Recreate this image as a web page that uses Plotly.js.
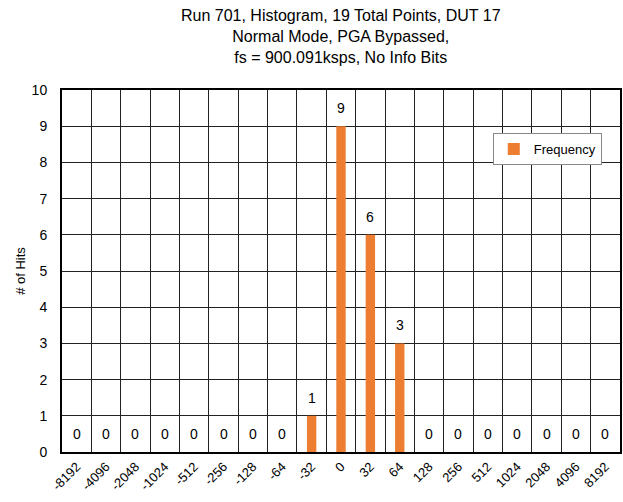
<!DOCTYPE html>
<html>
<head>
<meta charset="utf-8">
<script src="https://cdn.plot.ly/plotly-3.0.1.min.js"></script>
<style>html,body{margin:0;padding:0;background:#fff;}#chart{width:623px;height:502px;}</style>
</head>
<body>
<div id="chart"></div>
<script>
const categories = ["-8192","-4096","-2048","-1024","-512","-256","-128","-64","-32","0","32","64","128","256","512","1024","2048","4096","8192"];
const frequency = [0,0,0,0,0,0,0,0,1,9,6,3,0,0,0,0,0,0,0];
const titleLines = ["Run 701, Histogram, 19 Total Points, DUT 17","Normal Mode, PGA Bypassed,","fs = 900.091ksps, No Info Bits"];
const seriesName = "Frequency";
const yTitle = "# of Hits";

const FONT = "Liberation Sans, Arial, sans-serif";

const trace = {
  type: "bar",
  x: categories,
  y: frequency,
  name: seriesName,
  marker: {color: "#ED7D31"},
  showlegend: true
};

const annotations = categories.map((c, i) => ({
  x: i, y: frequency[i], xref: "x", yref: "y",
  text: String(frequency[i]), showarrow: false,
  yanchor: "bottom", yshift: 8,
  font: {family: FONT, size: 14, color: "#000"}
}));

const layout = {
  width: 623, height: 502,
  margin: {l: 62, r: 3, t: 90, b: 50},
  paper_bgcolor: "#fff", plot_bgcolor: "#fff",
  font: {family: FONT, color: "#000", size: 13},
  title: {
    text: titleLines.join("<br>"),
    font: {family: FONT, size: 16, color: "#000"},
    x: 0.547, xanchor: "center", y: 0.958, yanchor: "middle"
  },
  bargap: 0.68,
  xaxis: {
    type: "category",
    range: [-0.5, categories.length - 0.5],
    autorange: false,
    tickson: "boundaries",
    showgrid: true, gridcolor: "#222", gridwidth: 1,
    showline: true, linecolor: "#000", linewidth: 2, mirror: true,
    ticks: "", tickangle: -45,
    tickfont: {family: FONT, size: 13, color: "#000"}
  },
  yaxis: {
    range: [0, 10], dtick: 1, autorange: false,
    showgrid: true, gridcolor: "#222", gridwidth: 1,
    zeroline: false,
    showline: true, linecolor: "#000", linewidth: 2, mirror: true,
    ticks: "", ticklen: 0, ticklabelstandoff: 10,
    tickfont: {family: FONT, size: 14, color: "#000"},
    title: {text: yTitle, font: {family: FONT, size: 13, color: "#000"}, standoff: 3}
  },
  legend: {
    x: 0.772, y: 0.881, xanchor: "left", yanchor: "top",
    bgcolor: "#fff", bordercolor: "#888", borderwidth: 1,
    itemwidth: 30,
    font: {family: FONT, size: 13, color: "#000"}
  },
  annotations: annotations
};

Plotly.newPlot("chart", [trace], layout, {displayModeBar: false, staticPlot: true});
</script>
</body>
</html>
